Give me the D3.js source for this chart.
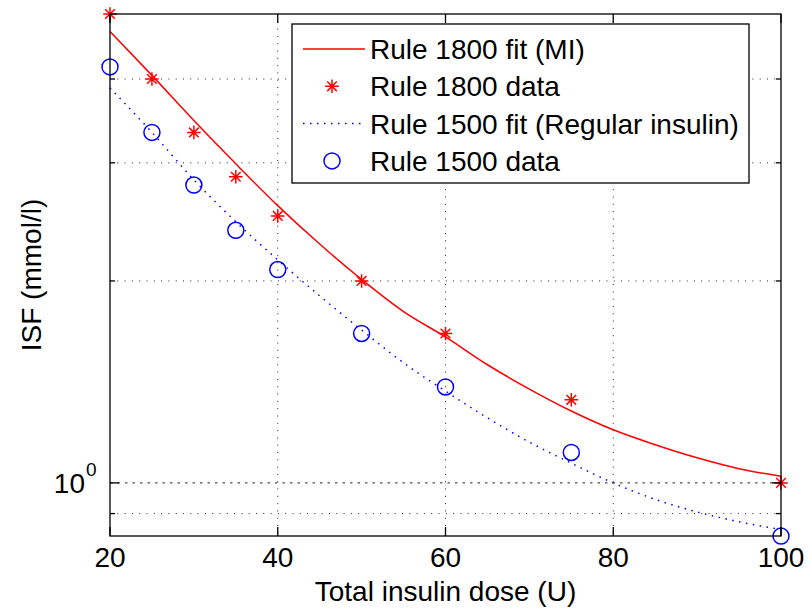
<!DOCTYPE html>
<html>
<head>
<meta charset="utf-8">
<script src="https://cdn.jsdelivr.net/npm/d3@7"></script>
<style>
  body { margin: 0; background: #fff; }
  text { font-family: "Liberation Sans", Arial, sans-serif; fill: #000; }
</style>
</head>
<body>
<div id="chart"></div>
<script>
// data: total daily dose (U) and insulin sensitivity factor (mmol/l)
const doses = [20, 25, 30, 35, 40, 50, 60, 75, 100];
const rule1800 = [5.0, 4.0, 3.33, 2.86, 2.5, 2.0, 1.67, 1.33, 1.0];
const rule1500 = [4.17, 3.33, 2.78, 2.38, 2.08, 1.67, 1.39, 1.11, 0.833];

// fitted curves
const fitDoses = [20, 25, 30, 35, 40, 45, 50, 55, 60, 65, 70, 75, 80, 85, 90, 95, 100];
const fit1800 = [4.71, 4.05, 3.47, 2.99, 2.59, 2.27, 2.01, 1.80, 1.65, 1.50, 1.38, 1.28, 1.20, 1.14, 1.09, 1.05, 1.023];
const fit1500 = [3.88, 3.33, 2.83, 2.45, 2.15, 1.90, 1.69, 1.51, 1.37, 1.25, 1.15, 1.07, 1.0, 0.945, 0.905, 0.875, 0.852];

const xTicks = [20, 40, 60, 80, 100];
const yMajor = [1];
const yMinor = [0.9, 2, 3, 4];

const legendItems = [
  { label: "Rule 1800 fit (MI)", kind: "line", color: "#ff0000", dash: null },
  { label: "Rule 1800 data", kind: "star", color: "#ff0000" },
  { label: "Rule 1500 fit (Regular insulin)", kind: "line", color: "#0000ff", dash: "1.5,5.5" },
  { label: "Rule 1500 data", kind: "circle", color: "#0000ff" }
];

const width = 811, height = 615;
const margin = { left: 110, right: 30, top: 14, bottom: 79 };
const fs = 28;

const svg = d3.select("#chart").append("svg")
  .attr("width", width)
  .attr("height", height);

const x = d3.scaleLinear().domain([20, 100]).range([margin.left, width - margin.right]);
const y = d3.scaleLog().domain([1500 / 18 / 100, 5]).range([height - margin.bottom, margin.top]);

const x0 = x.range()[0], x1 = x.range()[1];
const yb = y.range()[0], yt = y.range()[1];

// grid
const grid = svg.append("g").attr("stroke", "#222").attr("stroke-width", 1).attr("fill", "none");
grid.selectAll(".vg").data(xTicks.slice(1, -1)).enter().append("line")
  .attr("x1", d => x(d)).attr("x2", d => x(d))
  .attr("y1", yt).attr("y2", yb)
  .attr("stroke-dasharray", "1,6.3");
grid.selectAll(".hg").data(yMinor).enter().append("line")
  .attr("x1", x0).attr("x2", x1)
  .attr("y1", d => y(d)).attr("y2", d => y(d))
  .attr("stroke-dasharray", "1,6.3");
grid.selectAll(".hm").data(yMajor).enter().append("line")
  .attr("x1", x0).attr("x2", x1)
  .attr("y1", d => y(d)).attr("y2", d => y(d))
  .attr("stroke-dasharray", "2.5,5");

// fits
const fitLine = d3.line()
  .x(d => x(d[0]))
  .y(d => y(d[1]))
  .curve(d3.curveMonotoneX);

svg.append("path")
  .datum(fitDoses.map((d, i) => [d, fit1800[i]]))
  .attr("d", fitLine)
  .attr("fill", "none")
  .attr("stroke", "#ff0000")
  .attr("stroke-width", 1.5);

svg.append("path")
  .datum(fitDoses.map((d, i) => [d, fit1500[i]]))
  .attr("d", fitLine)
  .attr("fill", "none")
  .attr("stroke", "#0000ff")
  .attr("stroke-width", 1.5)
  .attr("stroke-dasharray", "1.5,5.5");

// markers
function star(g, r) {
  const k = r * Math.SQRT1_2;
  g.append("path")
    .attr("d", `M${-r},0H${r}M0,${-r}V${r}M${-k},${-k}L${k},${k}M${-k},${k}L${k},${-k}`);
}

svg.selectAll(".star").data(doses).enter().append("g")
  .attr("transform", (d, i) => `translate(${x(d)},${y(rule1800[i])})`)
  .attr("stroke", "#ff0000").attr("stroke-width", 1.5).attr("fill", "none")
  .each(function() { star(d3.select(this), 6.8); });

svg.selectAll(".circ").data(doses).enter().append("circle")
  .attr("cx", d => x(d))
  .attr("cy", (d, i) => y(rule1500[i]))
  .attr("r", 8)
  .attr("fill", "none")
  .attr("stroke", "#0000ff")
  .attr("stroke-width", 1.5);

// axes box and ticks
const ax = svg.append("g").attr("stroke", "#000").attr("stroke-width", 1.3).attr("fill", "none");
ax.append("rect").attr("x", x0).attr("y", yt).attr("width", x1 - x0).attr("height", yb - yt);
xTicks.forEach(t => {
  ax.append("line").attr("x1", x(t)).attr("x2", x(t)).attr("y1", yb).attr("y2", yb - 9);
  ax.append("line").attr("x1", x(t)).attr("x2", x(t)).attr("y1", yt).attr("y2", yt + 9);
});
yMajor.forEach(t => {
  ax.append("line").attr("x1", x0).attr("x2", x0 + 9).attr("y1", y(t)).attr("y2", y(t));
  ax.append("line").attr("x1", x1).attr("x2", x1 - 9).attr("y1", y(t)).attr("y2", y(t));
});
yMinor.forEach(t => {
  ax.append("line").attr("x1", x0).attr("x2", x0 + 5).attr("y1", y(t)).attr("y2", y(t));
  ax.append("line").attr("x1", x1).attr("x2", x1 - 5).attr("y1", y(t)).attr("y2", y(t));
});

// tick labels
svg.selectAll(".xl").data(xTicks).enter().append("text")
  .attr("x", d => x(d))
  .attr("y", yb + 31)
  .attr("text-anchor", "middle")
  .attr("font-size", fs)
  .text(d => d);

yMajor.forEach(t => {
  const lab = svg.append("text")
    .attr("x", x0 - 25)
    .attr("y", y(t) + 10)
    .attr("text-anchor", "end")
    .attr("font-size", fs)
    .text("10");
  svg.append("text")
    .attr("x", x0 - 24)
    .attr("y", y(t) - 7)
    .attr("font-size", 19)
    .text(Math.log10(t));
});

// axis labels
svg.append("text")
  .attr("x", (x0 + x1) / 2)
  .attr("y", 601)
  .attr("text-anchor", "middle")
  .attr("font-size", fs)
  .text("Total insulin dose (U)");

svg.append("text")
  .attr("transform", `translate(41,${(yt + yb) / 2}) rotate(-90)`)
  .attr("text-anchor", "middle")
  .attr("font-size", fs)
  .text("ISF (mmol/l)");

// legend
const lg = svg.append("g");
lg.append("rect")
  .attr("x", 292).attr("y", 24)
  .attr("width", 457).attr("height", 159)
  .attr("fill", "#fff").attr("stroke", "#000").attr("stroke-width", 1.3);

legendItems.forEach((it, i) => {
  const cy = 49 + i * 37.3;
  if (it.kind === "line") {
    lg.append("line")
      .attr("x1", 303).attr("x2", 365).attr("y1", cy).attr("y2", cy)
      .attr("stroke", it.color).attr("stroke-width", 1.5)
      .attr("stroke-dasharray", it.dash);
  } else if (it.kind === "star") {
    const g = lg.append("g").attr("transform", `translate(332,${cy})`)
      .attr("stroke", it.color).attr("stroke-width", 1.5);
    star(g, 6.8);
  } else {
    lg.append("circle").attr("cx", 332).attr("cy", cy).attr("r", 8)
      .attr("fill", "none").attr("stroke", it.color).attr("stroke-width", 1.5);
  }
  lg.append("text")
    .attr("x", 370)
    .attr("y", cy + 10)
    .attr("font-size", fs)
    .text(it.label);
});
</script>
</body>
</html>
